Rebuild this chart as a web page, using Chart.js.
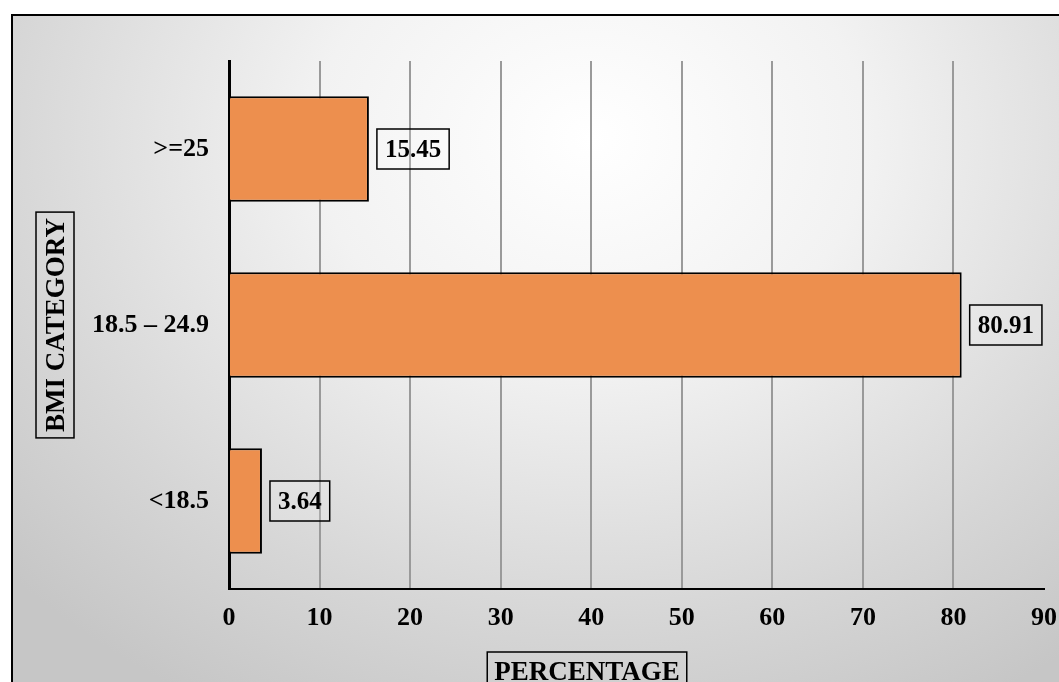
<!DOCTYPE html>
<html>
<head>
<meta charset="utf-8">
<script src="https://cdn.jsdelivr.net/npm/chart.js@4.4.1/dist/chart.umd.min.js"></script>
<style>
  html, body { margin: 0; padding: 0; background: #fff; overflow: hidden; }
  #wrap {
    position: absolute; left: 11px; top: 14px; width: 1050px; height: 680px;
    border: 2px solid #000;
    background: radial-gradient(ellipse 75% 95% at 55% 18%, #ffffff 0%, #f2f2f2 35%, #d6d6d6 75%, #c6c6c6 100%);
  }
  #chart { display: block; }
</style>
</head>
<body>
<div id="wrap"><canvas id="chart" width="1050" height="680"></canvas></div>
<script>
// chart data
const categories = [">=25", "18.5 \u2013 24.9", "<18.5"];
const percentages = [15.45, 80.91, 3.64];
const xTicks = [0, 10, 20, 30, 40, 50, 60, 70, 80, 90];
const xTitle = "PERCENTAGE";
const yTitle = "BMI CATEGORY";

const fontFamily = "'Liberation Serif', 'Times New Roman', serif";

// draws the boxed value labels and the boxed axis titles
const boxedText = {
  id: "boxedText",
  afterDatasetsDraw(chart) {
    const ctx = chart.ctx;
    ctx.save();
    ctx.font = "bold 25px " + fontFamily;
    ctx.textBaseline = "middle";
    ctx.textAlign = "left";
    chart.getDatasetMeta(0).data.forEach(function (bar, i) {
      const text = percentages[i].toFixed(2);
      const w = ctx.measureText(text).width + 16;
      const h = 40;
      const x = bar.x + 8;
      const y = bar.y - h / 2;
      ctx.fillStyle = "rgba(255,255,255,0.15)";
      ctx.fillRect(x, y, w, h);
      ctx.lineWidth = 1.5;
      ctx.strokeStyle = "#000";
      ctx.strokeRect(x, y, w, h);
      ctx.fillStyle = "#000";
      ctx.fillText(text, x + 8, bar.y + 2);
    });

    // x axis title
    ctx.font = "bold 27px " + fontFamily;
    ctx.textAlign = "center";
    const tw = ctx.measureText(xTitle).width + 14;
    const cx = 574;
    const cy = 655;
    ctx.strokeRect(cx - tw / 2, cy - 19, tw, 46);
    ctx.fillText(xTitle, cx, cy + 2);

    // y axis title (rotated)
    ctx.save();
    ctx.translate(42, 309);
    ctx.rotate(-Math.PI / 2);
    const yw = ctx.measureText(yTitle).width + 12;
    ctx.strokeRect(-yw / 2, -19, yw, 38);
    ctx.fillText(yTitle, 0, 2);
    ctx.restore();
    ctx.restore();
  }
};

new Chart(document.getElementById("chart").getContext("2d"), {
  type: "bar",
  data: {
    labels: categories,
    datasets: [
      {
        data: percentages,
        backgroundColor: "#ED8F4E",
        borderColor: "#000",
        borderWidth: 2,
        borderSkipped: "left",
        barPercentage: 0.6,
        categoryPercentage: 1.0,
      },
    ],
  },
  options: {
    indexAxis: "y",
    responsive: false,
    animation: false,
    layout: { padding: { left: 0, top: 45, right: 19, bottom: 0 } },
    plugins: {
      legend: { display: false },
      tooltip: { enabled: false },
    },
    scales: {
      x: {
        min: 0,
        max: 90,
        afterBuildTicks(axis) {
          axis.ticks = xTicks.map((v) => ({ value: v }));
        },
        afterFit(axis) {
          axis.height = 107;
          axis.paddingLeft = 0;
          axis.paddingRight = 0;
        },
        grid: {
          // no line at the far right end
          color: (c) => (c.tick && c.tick.value === 90 ? "rgba(0,0,0,0)" : "#9a9a9a"),
          lineWidth: 2,
          drawTicks: false,
        },
        border: { color: "#000", width: 2 },
        ticks: {
          color: "#000",
          padding: 14,
          font: { family: fontFamily, size: 26, weight: "bold" },
        },
      },
      y: {
        afterFit(axis) {
          axis.width = 216;
        },
        grid: { display: false, drawTicks: false },
        border: { color: "#000", width: 3 },
        ticks: {
          color: "#000",
          padding: 20,
          font: { family: fontFamily, size: 26, weight: "bold" },
        },
      },
    },
  },
  plugins: [boxedText],
});
</script>
</body>
</html>
